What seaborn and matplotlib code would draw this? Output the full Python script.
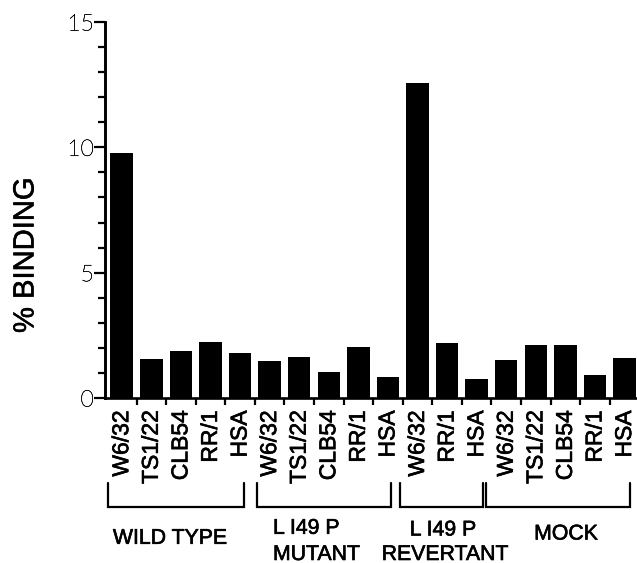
import matplotlib
matplotlib.use("Agg")
import matplotlib.pyplot as plt
import matplotlib.transforms as mtransforms
import matplotlib.patheffects as pe
import seaborn as sns
import pandas as pd
import numpy as np

# ---- data ----
antibodies = ["W6/32", "TS1/22", "CLB54", "RR/1", "HSA",
              "W6/32", "TS1/22", "CLB54", "RR/1", "HSA",
              "W6/32", "RR/1", "HSA",
              "W6/32", "TS1/22", "CLB54", "RR/1", "HSA"]
groups = ["WILD TYPE"] * 5 + ["L I49 P MUTANT"] * 5 + ["L I49 P REVERTANT"] * 3 + ["MOCK"] * 5
binding = [9.76, 1.56, 1.87, 2.25, 1.78,
           1.48, 1.65, 1.05, 2.05, 0.85,
           12.58, 2.21, 0.75,
           1.52, 2.11, 2.11, 0.92, 1.58]
y_ticks = [0, 5, 10, 15]
y_ticklabels = ["0", "5", "10", "15"]
group_order = ["WILD TYPE", "L I49 P MUTANT", "L I49 P REVERTANT", "MOCK"]

df = pd.DataFrame({
    "id": [f"{g}|{a}|{i}" for i, (g, a) in enumerate(zip(groups, antibodies))],
    "antibody": antibodies,
    "group": groups,
    "binding": binding,
})

sns.set_style("ticks")
plt.rcParams["font.family"] = ["Liberation Sans", "DejaVu Sans"]
plt.rcParams["text.color"] = "black"
plt.rcParams["xtick.color"] = "black"
plt.rcParams["ytick.color"] = "black"
plt.rcParams["axes.edgecolor"] = "black"

stroke = [pe.withStroke(linewidth=0.45, foreground="black")]

W, H = 637, 563
fig = plt.figure(figsize=(W / 100, H / 100), dpi=100)
ax = fig.add_axes([105 / W, (H - 398) / H, (W - 105) / W, (398 - 22) / H])

sns.barplot(data=df, x="id", y="binding", color="black", width=0.76,
            edgecolor="none", saturation=1, ax=ax, errorbar=None)
for p in ax.patches:
    p.set_facecolor("black")

n = len(df)
ax.set_xlim(-0.565, n - 1 + 0.42)
ax.set_ylim(0, 15)

# x ticks: labels at bar centers (no tick mark), tick marks at boundaries
ax.set_xticks(np.arange(n))
ax.set_xticklabels(df["antibody"], rotation=90, fontsize=16.5, va="top", ha="center")
for lab in ax.get_xticklabels():
    lab.set_path_effects(stroke)
    lab.set_color("black")
ax.tick_params(axis="x", which="major", length=0, pad=9)
ax.set_xticks(np.arange(n - 1) + 0.5, minor=True)
ax.tick_params(axis="x", which="minor", length=5, width=1.6, direction="out")

# y ticks
ax.set_yticks(y_ticks)
ax.set_yticklabels(y_ticklabels)
ax.set_yticks(np.arange(0, 16, 1), minor=True)
ax.tick_params(axis="y", which="major", length=8, width=1.6, pad=0, labelsize=16.5)
ax.tick_params(axis="y", which="minor", length=5, width=1.6)
for lab in ax.get_yticklabels():
    lab.set_fontfamily(["Lato", "DejaVu Sans"])
    lab.set_fontweight("light")
    lab.set_color("black")
    lab.set_path_effects([pe.withStroke(linewidth=0.3, foreground="black")])

ax.set_xlabel("")
ax.set_ylabel("")
for s in ["top", "right"]:
    ax.spines[s].set_visible(False)
ax.spines["left"].set_linewidth(2.1)
ax.spines["bottom"].set_linewidth(1.9)

fig.text(25.5 / W, 1 - 255.5 / H, "% BINDING", rotation=90, ha="center", va="center",
         fontsize=21, color="black", path_effects=[pe.withStroke(linewidth=0.4, foreground="black")])

# group brackets
trans = mtransforms.blended_transform_factory(ax.transData, fig.transFigure)
pads = [(0.45, 0.13), (0.44, 0.11), (0.60, 0.21), (0.68, 0.17)]
y_top = 1 - 483 / H
y_bot = 1 - 506.5 / H
idx = np.arange(n)
for g, (lp, rp) in zip(group_order, pads):
    members = idx[df["group"].values == g]
    x0 = members.min() - lp
    x1 = members.max() + rp
    ax.plot([x0, x0, x1, x1], [y_top, y_bot, y_bot, y_top], color="black",
            lw=1.6, transform=trans, clip_on=False, solid_joinstyle="miter")

# group labels
def ftext(px, py, s, ha="center"):
    fig.text(px / W, 1 - py / H, s, ha=ha, va="center", fontsize=15.3,
             color="black", path_effects=stroke)

ftext(170, 538.3, "WILD TYPE")
ftext(273, 528.3, "L I49 P", ha="left")
ftext(273, 554.5, "MUTANT", ha="left")
ftext(443, 530, "L I49 P")
ftext(445, 554.5, "REVERTANT")
ftext(566, 534, "MOCK")

fig.savefig("out.png", dpi=100)
